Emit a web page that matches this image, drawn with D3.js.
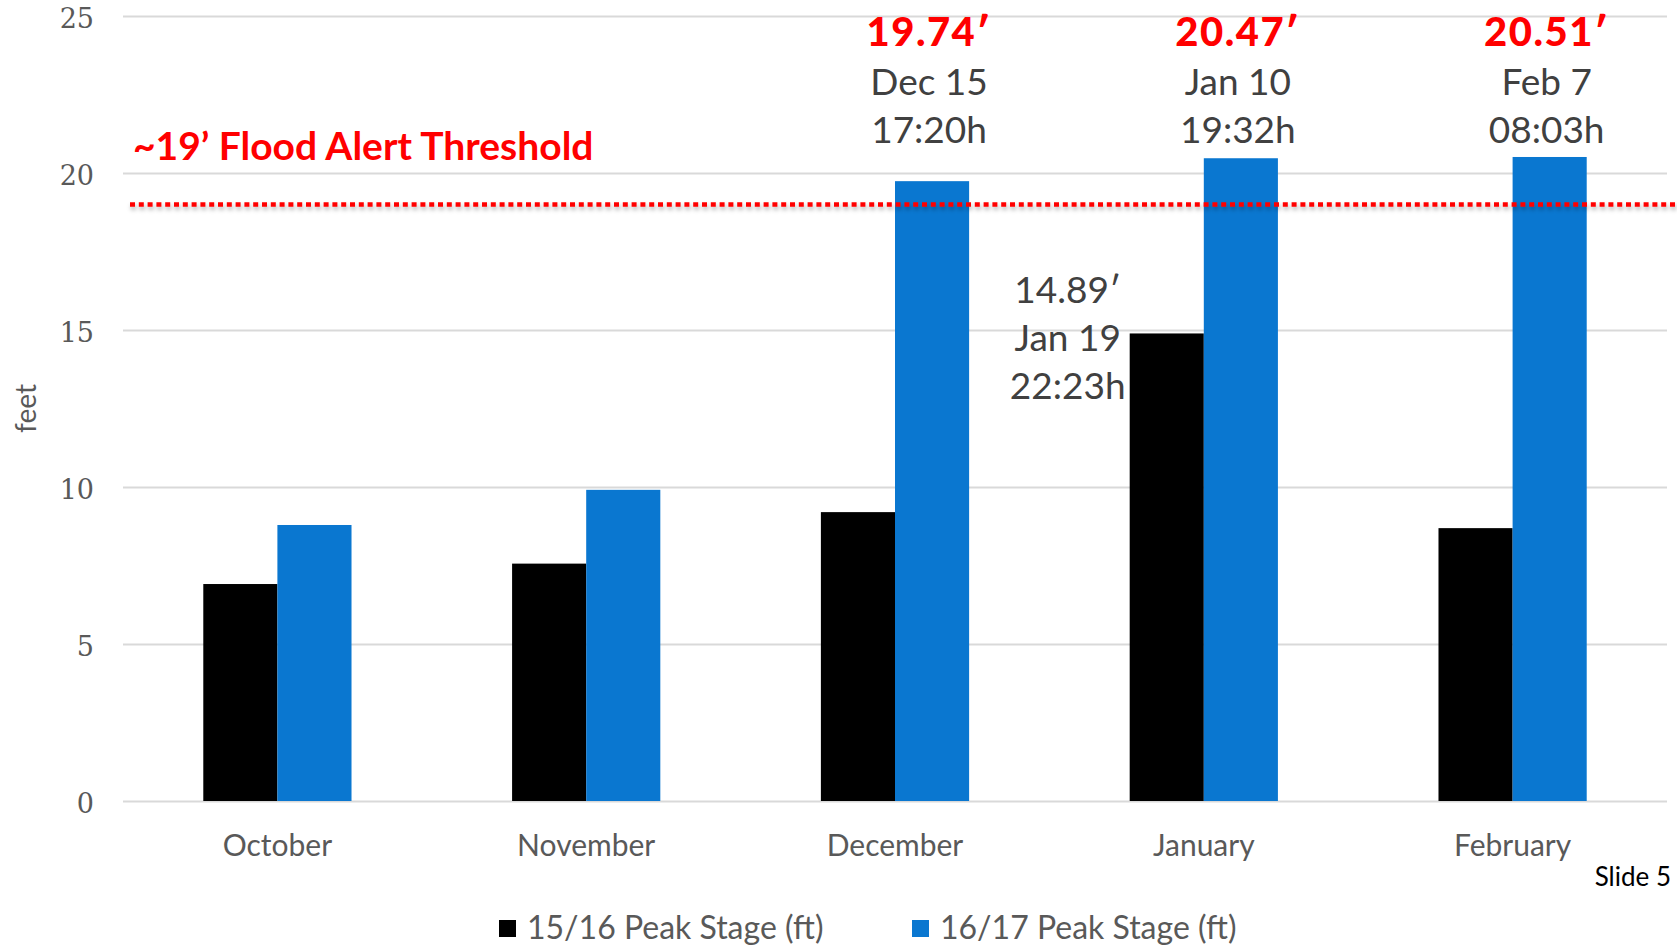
<!DOCTYPE html>
<html>
<head>
<meta charset="utf-8">
<script src="https://cdn.jsdelivr.net/npm/d3@7"></script>
<style>
	html, body { margin: 0; padding: 0; background: #fff; overflow: hidden; }
	svg { display: block; }
</style>
</head>
<body>
<div id="chart"></div>
<script>
var months = ["October", "November", "December", "January", "February"]
var seriesNames = ["15/16 Peak Stage (ft)", "16/17 Peak Stage (ft)"]
var peak1516 = [6.91, 7.56, 9.20, 14.89, 8.69]
var peak1617 = [8.79, 9.91, 19.74, 20.47, 20.51]
var yTicks = [0, 5, 10, 15, 20, 25]
var threshold = 19
var thresholdLabel = "~19\u2019 Flood Alert Threshold"

// peaks called out above the bars
var topNotes = [
	{ month: "December", series: 1, value: "19.74\u2032", when: ["Dec 15", "17:20h"] },
	{ month: "January", series: 1, value: "20.47\u2032", when: ["Jan 10", "19:32h"] },
	{ month: "February", series: 1, value: "20.51\u2032", when: ["Feb 7", "08:03h"] }
]
var sideNote = { month: "January", series: 0, lines: ["14.89\u2032", "Jan 19", "22:23h"] }

;(() => run())()

function run() {
	var w = 1677
	var h = 946
	var b = { left: 123, right: 1667, top: 16, bottom: 801 }

	var sans = "Lato, 'Open Sans', sans-serif"
	var grey = "#595959"
	var colors = ["#000000", "#0a77d0"]
	var red = "#ff0000"

	var svg = d3.select("#chart").append("svg")
		.attr("width", w)
		.attr("height", h)

	// soft shadow under the dotted line (user space, the line has no height)
	var defs = svg.append("defs")
	defs.append("filter")
		.attr("id", "shadow")
		.attr("filterUnits", "userSpaceOnUse")
		.attr("x", 0).attr("y", 150)
		.attr("width", w).attr("height", 80)
		.append("feDropShadow")
		.attr("dx", 1).attr("dy", 3)
		.attr("stdDeviation", 2)
		.attr("flood-color", "#000")
		.attr("flood-opacity", 0.3)

	var x0 = d3.scaleBand()
		.domain(months)
		.range([b.left, b.right])
		.paddingInner(0.52)
		.paddingOuter(0.26)

	var x1 = d3.scaleBand()
		.domain([0, 1])
		.range([0, x0.bandwidth()])

	var y = d3.scaleLinear()
		.domain([0, 25])
		.range([b.bottom, b.top])

	// gridlines + tick labels
	var yAxis = d3.axisLeft(y)
		.tickValues(yTicks)
		.tickSize(-(b.right - b.left))
		.tickPadding(29)

	var gy = svg.append("g")
		.attr("transform", "translate(" + b.left + ",0)")
		.call(yAxis)
	gy.select(".domain").remove()
	gy.selectAll(".tick line")
		.attr("stroke", "#d9d9d9")
		.attr("stroke-width", 2)
	gy.selectAll(".tick text")
		.attr("fill", grey)
		.attr("dy", "0.42em")
		.style("font-family", "'DejaVu Serif', serif")
		.style("font-size", "27px")

	svg.append("text")
		.attr("transform", "translate(36," + ((b.top + b.bottom) / 2) + ") rotate(-90)")
		.attr("text-anchor", "middle")
		.attr("fill", grey)
		.style("font-family", sans)
		.style("font-size", "28px")
		.text("feet")

	// bars
	var rows = months.map((m, i) => ({ month: m, vals: [peak1516[i], peak1617[i]] }))

	svg.append("g").selectAll("g")
		.data(rows)
		.enter()
		.append("g")
		.attr("transform", d => "translate(" + x0(d.month) + ",0)")
		.selectAll("rect")
		.data(d => d.vals.map((v, k) => ({ k: k, v: v })))
		.enter()
		.append("rect")
		.attr("x", d => x1(d.k))
		.attr("y", d => y(d.v))
		.attr("width", x1.bandwidth())
		.attr("height", d => b.bottom - y(d.v))
		.attr("fill", d => colors[d.k])

	// month labels
	svg.append("g").selectAll("text")
		.data(months)
		.enter()
		.append("text")
		.attr("x", d => x0(d) + x0.bandwidth() / 2)
		.attr("y", b.bottom + 55)
		.attr("text-anchor", "middle")
		.attr("fill", grey)
		.style("font-family", sans)
		.style("font-size", "30px")
		.text(d => d)

	// threshold
	svg.append("line")
		.attr("x1", 130)
		.attr("x2", w)
		.attr("y1", y(threshold))
		.attr("y2", y(threshold))
		.attr("stroke", red)
		.attr("stroke-width", 4.5)
		.attr("stroke-dasharray", "5 3.8")
		.attr("filter", "url(#shadow)")

	svg.append("text")
		.attr("x", 133)
		.attr("y", 160)
		.attr("fill", red)
		.style("font-family", sans)
		.style("font-weight", 700)
		.style("font-size", "39px")
		.text(thresholdLabel)

	// top annotations
	topNotes.forEach(n => {
		var cx = x0(n.month) + x1(n.series) + x1.bandwidth() / 2 - 3
		var g = svg.append("g")
		g.append("text")
			.attr("x", cx)
			.attr("y", 46)
			.attr("text-anchor", "middle")
			.attr("fill", red)
			.style("font-family", sans)
			.style("font-weight", 900)
			.style("font-size", "40px")
			.style("letter-spacing", "1.5px")
			.text(n.value)
		g.selectAll("text.when")
			.data(n.when)
			.enter()
			.append("text")
			.attr("class", "when")
			.attr("x", cx)
			.attr("y", (d, i) => 95 + i * 48)
			.attr("text-anchor", "middle")
			.attr("fill", "#404040")
			.style("font-family", sans)
			.style("font-size", "37px")
			.text(d => d)
	})

	var sx = x0(sideNote.month) + x1(sideNote.series) - 62
	svg.append("g").selectAll("text")
		.data(sideNote.lines)
		.enter()
		.append("text")
		.attr("x", sx)
		.attr("y", (d, i) => 303 + i * 48)
		.attr("text-anchor", "middle")
		.attr("fill", "#404040")
		.style("font-family", sans)
		.style("font-size", "37px")
		.text(d => d)

	// legend
	var legendX = [499, 912]
	var lg = svg.append("g").selectAll("g")
		.data(seriesNames)
		.enter()
		.append("g")
		.attr("transform", (d, i) => "translate(" + legendX[i] + ",920)")
	lg.append("rect")
		.attr("width", 17)
		.attr("height", 17)
		.attr("fill", (d, i) => colors[i])
	lg.append("text")
		.attr("x", 28)
		.attr("y", 19)
		.attr("fill", grey)
		.style("font-family", sans)
		.style("font-size", "32px")
		.text(d => d)

	svg.append("text")
		.attr("x", w - 6)
		.attr("y", 886)
		.attr("text-anchor", "end")
		.attr("fill", "#000")
		.style("font-family", sans)
		.style("font-size", "26px")
		.text("Slide 5")
}
</script>
</body>
</html>
